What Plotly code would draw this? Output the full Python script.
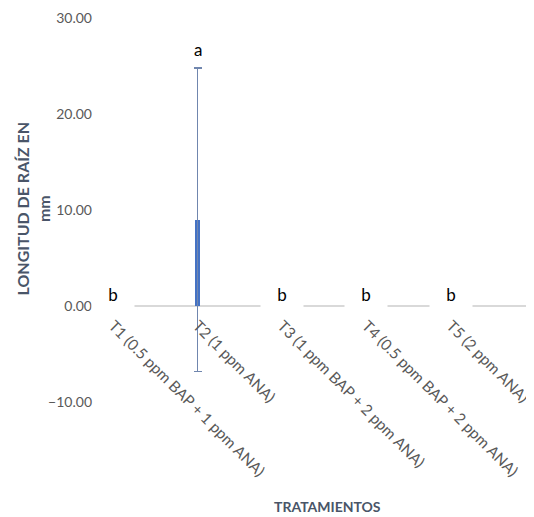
import plotly.graph_objects as go

categories = ["T1 (0.5 ppm BAP + 1 ppm ANA)", "T2 (1 ppm ANA)", "T3 (1 ppm BAP + 2 ppm ANA)",
              "T4 (0.5 ppm BAP + 2 ppm ANA)", "T5 (2 ppm ANA)"]
means = [0.0, 9.0, 0.0, 0.0, 0.0]
errors = [0.0, 15.8, 0.0, 0.0, 0.0]
letters = ["b", "a", "b", "b", "b"]
y_ticks = [-10, 0, 10, 20, 30]

FONT = "Lato"
xpos = list(range(len(categories)))
err_drawn = [e if e > 0 else None for e in errors]

fig = go.Figure()
fig.add_trace(go.Bar(
    x=xpos, y=means, width=0.06,
    marker=dict(color="#4472C4", line=dict(width=0)),
    error_y=dict(type="data", array=err_drawn, visible=True, color="#7086AE",
                 thickness=1.5, width=4),
    showlegend=False,
))

for i, (m, e, t) in enumerate(zip(means, errors, letters)):
    if e > 0:
        fig.add_annotation(
            x=i, y=m + e, text=t, showarrow=False, xanchor="center", yanchor="bottom",
            yshift=6, font=dict(family=FONT, size=17, color="#000000"),
        )
    else:
        fig.add_annotation(
            x=i, y=m, text=t, showarrow=False, xanchor="center", yanchor="middle",
            yshift=12, width=40, height=30, bgcolor="white",
            font=dict(family=FONT, size=17, color="#000000"),
        )

fig.add_annotation(
    xref="paper", yref="paper", x=-0.148, y=0.503,
    text="<b>LONGITUD DE RAÍZ EN<br>mm</b>", textangle=-90, showarrow=False,
    xanchor="center", yanchor="middle",
    font=dict(family=FONT, size=16, color="#495568"),
)
fig.add_annotation(
    xref="paper", yref="paper", x=0.531, y=-0.271,
    text="<b>TRATAMIENTOS</b>", showarrow=False, xanchor="center", yanchor="middle",
    font=dict(family=FONT, size=14, color="#495568"),
)

fig.update_layout(
    width=526, height=509,
    margin=dict(l=89, r=2, t=10, b=115, autoexpand=False),
    paper_bgcolor="white", plot_bgcolor="white",
    bargap=0,
)
fig.update_xaxes(
    range=[-0.19, 4.96], tickvals=xpos, ticktext=categories, tickangle=45,
    anchor="free", position=0.25, showgrid=False, showline=False, zeroline=False,
    automargin=False, ticks="", ticklabelstandoff=7, ticklabeloverflow="allow",
    tickfont=dict(family=FONT, size=15.3, color="#595959"),
)
fig.update_yaxes(
    range=[-10, 30], tickvals=y_ticks, tickformat=".2f", showgrid=False,
    zeroline=True, zerolinecolor="#D9D9D9", zerolinewidth=1.5, showline=False,
    automargin=False, ticks="", ticklabelstandoff=4,
    tickfont=dict(family=FONT, size=14, color="#595959"),
)

fig.write_html("out.html")
